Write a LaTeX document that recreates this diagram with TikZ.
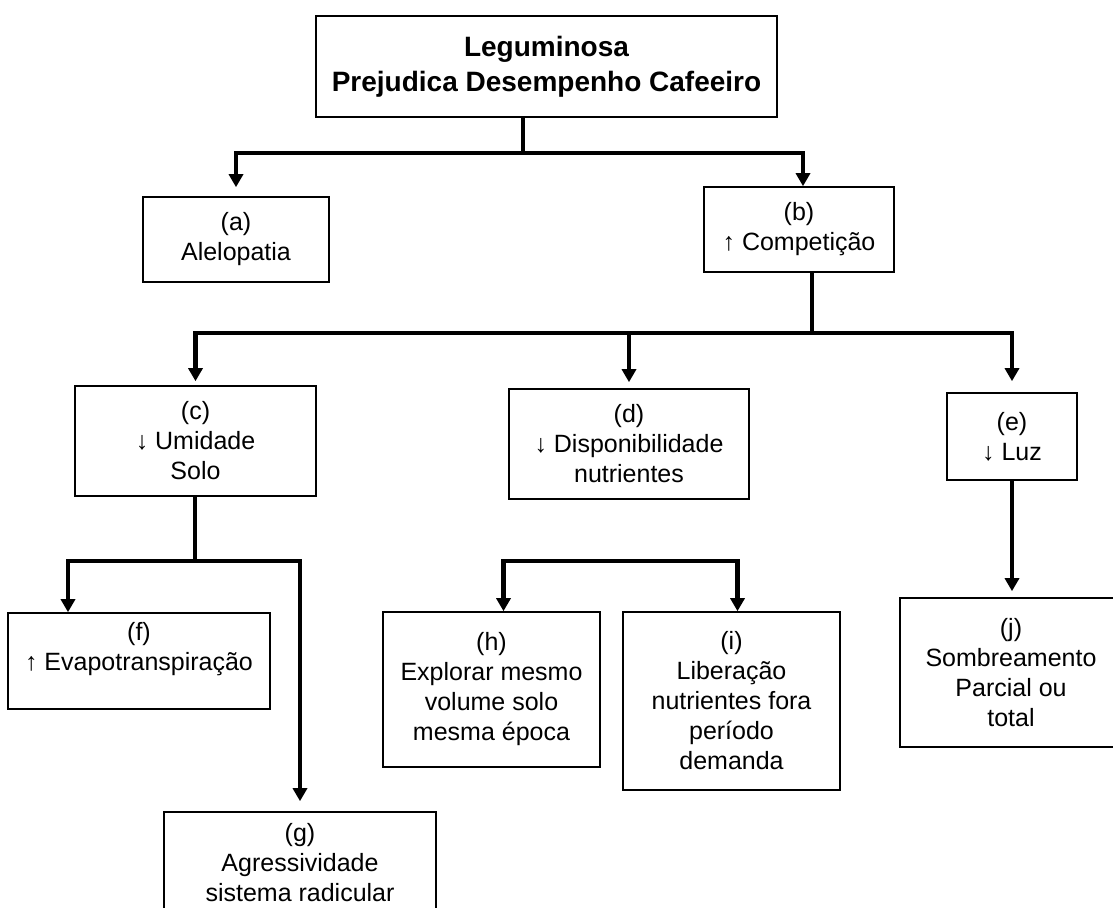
\documentclass[tikz,border=0pt]{standalone}
\usepackage{fontspec}
\setmainfont{Liberation Sans}
\usepackage{tikz}
\usetikzlibrary{arrows.meta}
\newcommand{\bodyfont}{\fontsize{12.5}{15}\selectfont}
\newcommand{\titlefont}{\fontsize{14}{17.5}\selectfont\bfseries}
\tikzset{
	box/.style={draw,line width=0.8pt,align=center,inner sep=0pt,font=\bodyfont},
	conn/.style={line width=2.3pt,-{Triangle[width=7pt,length=6.5pt]}},
	stem/.style={line width=2.3pt}
}

\begin{document}
\begin{tikzpicture}[x=0.5pt,y=-0.5pt]
				\useasboundingbox (0,0) rectangle (1113,908);
				\clip (0,0) rectangle (1113,908);
				\node[box,font=\titlefont,minimum width=230.5pt,minimum height=50.5pt] (lg) at (546.5,66.5) {Leguminosa\\Prejudica Desempenho Cafeeiro};
				\node[box,minimum width=93pt,minimum height=42.5pt] (a) at (236,239.5) {(a)\\Alelopatia};
				\node[box,minimum width=95pt,minimum height=42.5pt] (b) at (799,229.5) {(b)\\↑ Competição};
				\node[box,minimum width=120.5pt,minimum height=55pt] (c) at (195.5,441) {(c)\\↓ Umidade\\Solo};
				\node[box,minimum width=120pt,minimum height=55pt] (d) at (629,444) {(d)\\↓ Disponibilidade\\nutrientes};
				\node[box,minimum width=65pt,minimum height=43.5pt] (e) at (1012,436.5) {(e)\\↓ Luz};
				\node[box,minimum width=131pt,minimum height=48pt] (f) at (139,661) {(f)\\↑ Evapotranspiração\\\mbox{}};
				\node[box,minimum width=136pt,minimum height=51pt] (g) at (300,863) {(g)\\Agressividade\\sistema radicular};
				\node[box,minimum width=108.5pt,minimum height=77.5pt] (h) at (491.5,689.5) {(h)\\Explorar mesmo\\volume solo\\mesma época};
				\node[box,minimum width=108.5pt,minimum height=89pt] (i) at (731.5,701) {(i)\\Liberação\\nutrientes fora\\período\\demanda};
				\node[box,minimum width=111pt,minimum height=74.5pt] (j) at (1011,672.5) {(j)\\Sombreamento\\Parcial ou\\total};

				\coordinate (s1) at (523,153);%title bar
				\coordinate (s2) at (812,333);%competicao bar
				\coordinate (s3) at (195,561);%umidade bar
				\coordinate (s4) at (620,561);%nutrientes bar

				\draw[stem] (lg.south -| s1) -- (s1);
				\draw[conn,shorten >=4.5pt] (s1) -| (a.north);
				\draw[conn] (s1) -| ([xshift=2pt]b.north);
				\draw[stem] (b.south -| s2) -- (s2);
				\draw[conn,shorten >=2pt] (s2) -| (c.north);
				\draw[conn,shorten >=3pt] (s2) -| (d.north);
				\draw[conn,shorten >=5.5pt] (s2) -| (e.north);
				\draw[stem] (c.south -| s3) -- (s3);
				\draw[conn] (s3) -| ([xshift=-35.5pt]f.north);
				\draw[conn,shorten >=5pt] (s3) -| (g.north);
				\draw[conn] (s4) -| ([xshift=6pt]h.north);
				\draw[conn] (s4) -| ([xshift=3pt]i.north);
				\draw[conn,shorten >=3pt] (e.south) -- (e.south |- j.north);
			\end{tikzpicture}
\end{document}
